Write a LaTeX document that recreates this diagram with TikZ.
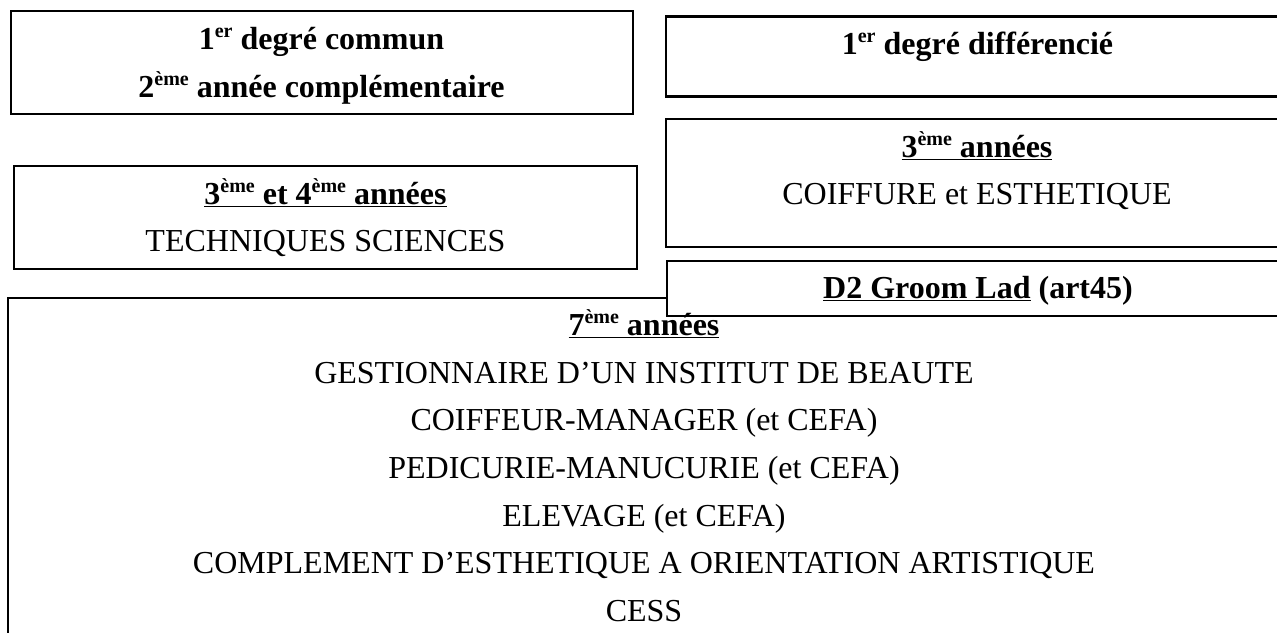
\documentclass[tikz,border=0pt]{standalone}
\usepackage{fontspec}
\setmainfont{Liberation Serif}
\newcommand{\mysup}[1]{\raisebox{0.36em}{\fontsize{20}{20}\selectfont #1}}
\begin{document}
\tikzset{
  frame/.style={draw=black, line width=2pt},
  heavyframe/.style={frame, line width=2.6pt},
  lbl/.style={anchor=base, inner sep=0pt, font=\fontsize{32}{47.6}\selectfont},
  lblb/.style={lbl, font=\fontsize{32}{47.6}\selectfont\bfseries},
}
\begin{tikzpicture}[x=1pt,y=-1pt]
\useasboundingbox (0,0) rectangle (1277,632);
\clip (0,0) rectangle (1277,632);
\fill[white] (0,0) rectangle (1277,632);
% boxes
\draw[frame] (8,298) rectangle (1290,700);
\draw[frame] (10.7,11) rectangle (633,114);
\draw[frame] (14.3,166) rectangle (637,269);
\draw[heavyframe] (666,16.7) rectangle (1290,96.7);
\draw[frame] (666,118.5) rectangle (1290,247);
\draw[frame, fill=white] (667,261) rectangle (1290,315.5);
% texts
\node[lblb] (a1) at (321.5,49) {1\mysup{er} degré commun};
\node[lblb] (a2) at (321.5,97) {2\mysup{ème} année complémentaire};
\node[lblb] (b1) at (325.5,204) {\underline{3\mysup{ème} et 4\mysup{ème} années}};
\node[lbl]  (b2) at (325.5,251) {TECHNIQUES SCIENCES};
\node[lblb] (c1) at (977.5,54) {1\mysup{er} degré différencié};
\node[lblb] (d1) at (977,157) {\underline{3\mysup{ème} années}};
\node[lbl]  (d2) at (977,204) {COIFFURE et ESTHETIQUE};
\node[lblb] (e1) at (978,298) {\underline{D2 Groom Lad} (art45)};
\node[lblb] (g0) at (644,335) {\underline{7\mysup{ème} années}};
\node[lbl]  (g1) at (644,383) {GESTIONNAIRE D’UN INSTITUT DE BEAUTE};
\node[lbl]  (g2) at (644,430) {COIFFEUR-MANAGER (et CEFA)};
\node[lbl]  (g3) at (644,478) {PEDICURIE-MANUCURIE (et CEFA)};
\node[lbl]  (g4) at (644,526) {ELEVAGE (et CEFA)};
\node[lbl]  (g5) at (644,573) {COMPLEMENT D’ESTHETIQUE A ORIENTATION ARTISTIQUE};
\node[lbl]  (g6) at (644,621) {CESS};
\end{tikzpicture}
\end{document}
